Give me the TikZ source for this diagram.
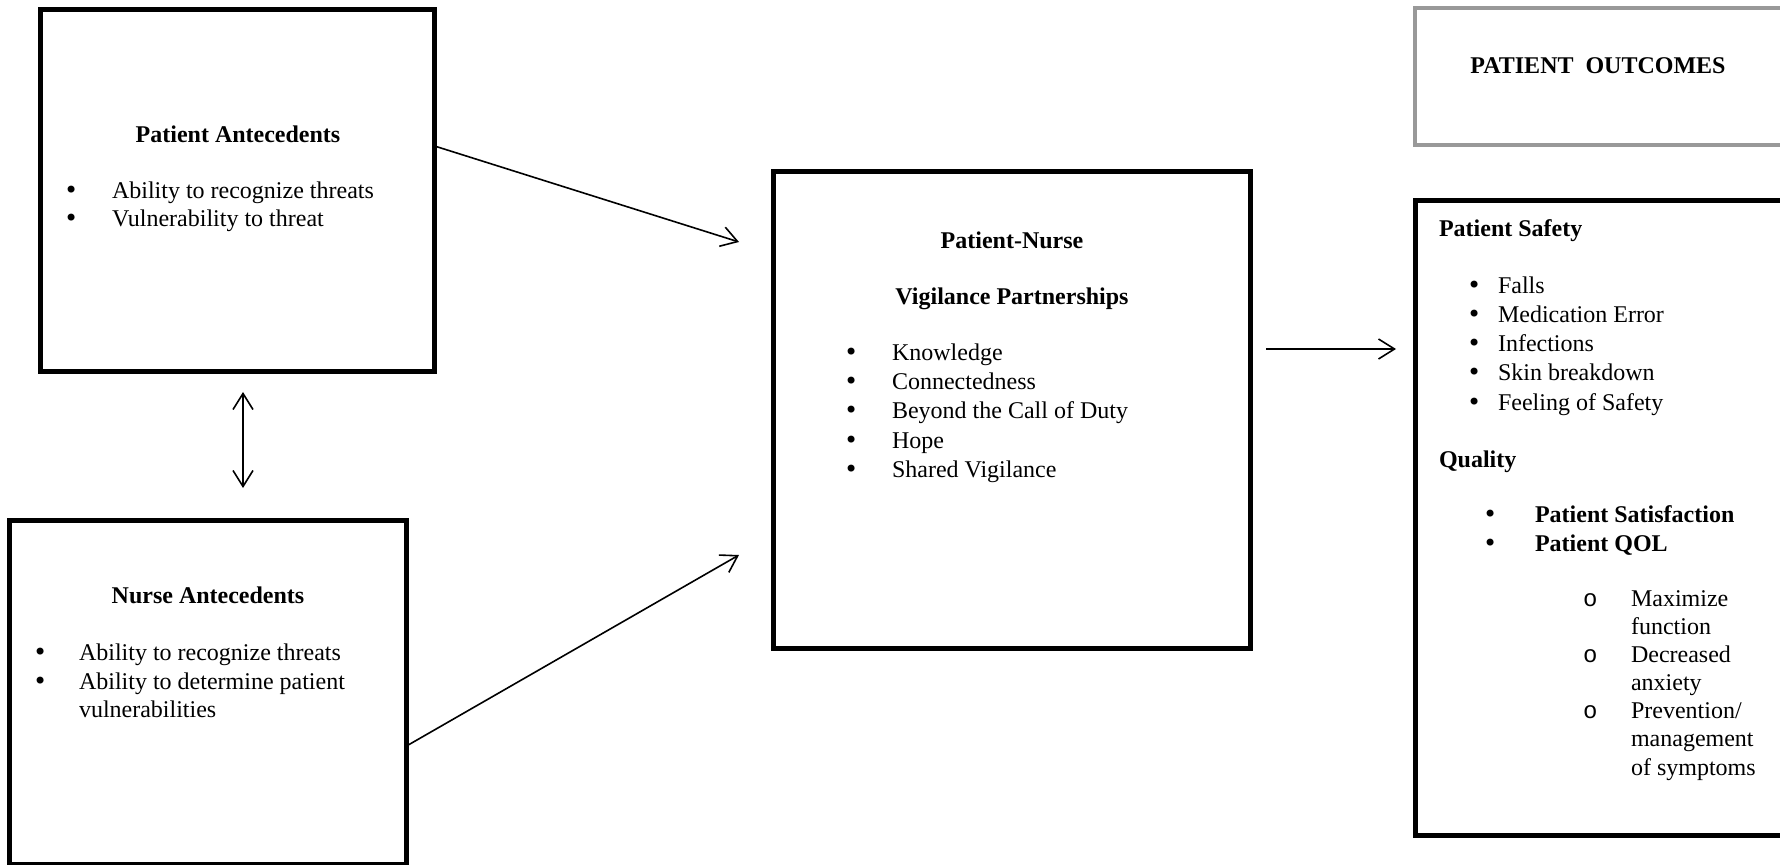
\documentclass[tikz,border=0pt]{standalone}
\usepackage{fontspec}
\setmainfont{Liberation Serif}
\newfontfamily\monof{Liberation Mono}
\newfontfamily\bulf{DejaVu Sans}
\usetikzlibrary{arrows.meta}
\newcommand\bul{{\bulf •}}
\newcommand\subbul{{\monof o}}
\begin{document}
\begin{tikzpicture}[x=0.5pt,y=-0.5pt,
  box/.style={draw, line width=2.5pt, inner sep=0pt, outer sep=0pt, anchor=north west},
  graybox/.style={draw=black!40, line width=2.2pt, inner sep=0pt, outer sep=0pt, anchor=north west},
  txt/.style={inner sep=0pt, outer sep=0pt, font=\fontsize{12}{14.5}\selectfont},
  lw/.style={txt, anchor=base west},
  conn/.style={line width=0.8pt, -{Straight Barb[length=8pt,width=10pt,line width=0.8pt]}},
  dconn/.style={line width=0.8pt, {Straight Barb[length=8pt,width=10pt,line width=0.8pt]}-{Straight Barb[length=8pt,width=10pt,line width=0.8pt]}}
]
\path[use as bounding box] (0,0) rectangle (1780,865);
\clip (0,0) rectangle (1780,865);
\fill[white] (0,0) rectangle (1780,865);

% boxes
\node[box, minimum width=197pt, minimum height=181pt] (pa) at (40.5,9.5) {};
\node[box, minimum width=198.5pt, minimum height=172pt] (na) at (9.5,520.5) {};
\node[box, minimum width=238.5pt, minimum height=238.5pt] (pn) at (773.5,171.5) {};
\node[graybox, minimum width=190pt, minimum height=68.5pt] (po) at (1415,8) {};
\node[box, minimum width=190pt, minimum height=317.5pt] (ps) at (1415.5,200.5) {};

% Patient Antecedents
\node[txt, anchor=base] (pat) at (238,143) {\bfseries Patient Antecedents};
\node[lw] (pab1) at (64,199) {\bul};
\node[lw] (pal1) at (112,199) {Ability to recognize threats};
\node[lw] (pab2) at (64,227) {\bul};
\node[lw] (pal2) at (112,227) {Vulnerability to threat};

% Nurse Antecedents
\node[txt, anchor=base] (nat) at (208,603) {\bfseries Nurse Antecedents};
\node[lw] (nab1) at (33,660) {\bul};
\node[lw] (nal1) at (79,660) {Ability to recognize threats};
\node[lw] (nab2) at (33,689) {\bul};
\node[lw] (nal2) at (79,689) {Ability to determine patient};
\node[lw] (nal3) at (79,717) {vulnerabilities};

% Patient-Nurse
\node[txt, anchor=base] (pnt1) at (1012,249) {\bfseries Patient-Nurse};
\node[txt, anchor=base] (pnt2) at (1012,305) {\bfseries Vigilance Partnerships};
\node[lw] (pnb1) at (844,361) {\bul};
\node[lw] (pnl1) at (892,361) {Knowledge};
\node[lw] (pnb2) at (844,390) {\bul};
\node[lw] (pnl2) at (892,390) {Connectedness};
\node[lw] (pnb3) at (844,419) {\bul};
\node[lw] (pnl3) at (892,419) {Beyond the Call of Duty};
\node[lw] (pnb4) at (844,448) {\bul};
\node[lw] (pnl4) at (892,448) {Hope};
\node[lw] (pnb5) at (844,477) {\bul};
\node[lw] (pnl5) at (892,477) {Shared Vigilance};

% Patient outcomes
\node[txt, anchor=base] (pot) at (1598,74) {\bfseries PATIENT\ \ OUTCOMES};

\node[lw] (pst) at (1439,237) {\bfseries Patient Safety};
\node[lw] (psb1) at (1467,294) {\bul};
\node[lw] (psl1) at (1498,294) {Falls};
\node[lw] (psb2) at (1467,323) {\bul};
\node[lw] (psl2) at (1498,323) {Medication Error};
\node[lw] (psb3) at (1467,352) {\bul};
\node[lw] (psl3) at (1498,352) {Infections};
\node[lw] (psb4) at (1467,381) {\bul};
\node[lw] (psl4) at (1498,381) {Skin breakdown};
\node[lw] (psb5) at (1467,410) {\bul};
\node[lw] (psl5) at (1498,410) {Feeling of Safety};

\node[lw] (qt) at (1439,467) {\bfseries Quality};
\node[lw] (qb1) at (1483,522) {\bul};
\node[lw] (ql1) at (1535,522) {\bfseries Patient Satisfaction};
\node[lw] (qb2) at (1483,551) {\bul};
\node[lw] (ql2) at (1535,551) {\bfseries Patient QOL};

\node[lw] (sb1) at (1583,606) {\subbul};
\node[lw] (sl1) at (1631,606) {Maximize};
\node[lw] (sl1b) at (1631,634) {function};
\node[lw] (sb2) at (1583,662) {\subbul};
\node[lw] (sl2) at (1631,662) {Decreased};
\node[lw] (sl2b) at (1631,690) {anxiety};
\node[lw] (sb3) at (1583,718) {\subbul};
\node[lw] (sl3) at (1631,718) {Prevention/};
\node[lw] (sl3b) at (1631,746) {management};
\node[lw] (sl3c) at (1631,775) {of symptoms};

% connector end points
\coordinate (a1s) at (pa.north east |- 0,146);
\coordinate (a1e) at (739,242);
\coordinate (a2s) at (na.north east |- 0,746);
\coordinate (a2e) at (739,555);
\coordinate (a3s) at (1266,349);
\coordinate (a3e) at (1396,349);
\coordinate (a4s) at (243,392);
\coordinate (a4e) at (243,488);

\draw[conn] (a1s) -- (a1e);
\draw[conn] (a2s) -- (a2e);
\draw[conn] (a3s) -- (a3e);
\draw[dconn] (a4s) -- (a4e);
\end{tikzpicture}
\end{document}
